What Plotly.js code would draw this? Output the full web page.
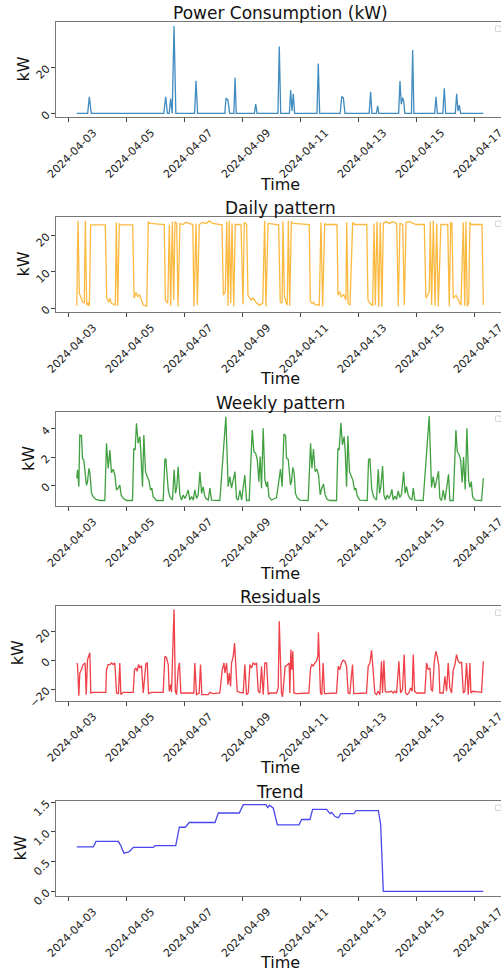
<!DOCTYPE html>
<html>
<head>
<meta charset="utf-8">
<script src="https://cdn.plot.ly/plotly-3.0.1.min.js"></script>
<style>
html,body{margin:0;padding:0;overflow:hidden;background:#fff;}
#chart{width:505px;height:972px;}
</style>
</head>
<body>
<div id="chart"></div>
<script>
// Time values are hours after 2024-04-03 00:00
const powerHours = [7,16,17.4,19,79,80.6,82,83.5,84.7,86,87.5,89,104.5,105.7,107,129.5,130.5,132,133.5,137,138,139,154,155.1,156.2,173.5,174.6,175.8,183,184,185.1,186.2,187.3,205.8,206.9,208,225,226.3,227.6,229,249,250.2,251.3,255,256,257,273.4,274.5,275.6,276.7,277.5,278.5,284,285,286,303.2,304.3,305.4,310,311.2,312.3,320.3,321.4,322.5,323.6,324.7,343.5];
const powerKW    = [0,0,7.2,0,0,7.2,0,0,6.4,0,38,0,0,14.2,0,0,6.4,6,0,0,15.6,0,0,4,0,0,29,0,0,10.1,1,8.5,0,0,21.7,0,0,7.2,6.8,0,0,9.4,0,0,3.2,0,0,14,4,6.8,5.5,0,0,27.5,0,0,7.2,0,0,10.9,0,0,8.5,1,3.6,0,0];

const dailyHours = [7,8,9.1,10.5,11.9,13.2,14.1,15.2,16.3,17.4,18.5,30.6,31.8,33.4,34.5,35.6,38.9,39.7,40.9,42.2,43.6,53.3,54.4,56,57.4,58.8,60.4,62.1,64.9,66.2,67.6,79.4,80.3,82.3,83.6,84.7,86.1,87.2,88.3,89.7,90.8,92.4,94.7,97.4,100.1,103,104,105.7,106.8,108.4,111.2,114,116.7,119.5,127.2,128.3,129.9,131.1,132.2,133.2,134.4,135.5,136.9,138.2,142.9,144.6,145.6,147.6,148.7,151.2,153.1,155.3,158.1,160.9,162.5,163.6,165.3,174.1,175.4,176.9,177.7,178.8,180.2,181.2,182.1,183.2,184.6,186.2,199.4,200.3,201.7,203.1,204.4,206.4,207.7,209.1,210.5,212.2,213.3,222.4,223.2,224.6,225.9,227.9,229.8,230.4,231.5,233.1,235.4,237,247,248,249.7,251.9,253,254.1,255.5,256.9,258.2,259.6,260.7,262.9,265.7,268.5,271.8,273.1,274.5,276.7,278.1,279.5,282.2,285,287.8,294.6,296,297.4,298.8,299.6,300.7,302.1,303.5,304.9,306.2,308.4,314,315.3,316.5,317.5,318.6,320.9,323.1,325,326.9,328.1,329.1,330.2,331.4,332.4,333.5,342.4,343.5];
const dailyKW    = [0.6,24,4,2.7,1.6,1.3,24,0.8,1.3,0.6,22.9,22.9,2.7,1.6,2.7,1.3,0.8,23.6,0.6,23.3,22.9,22.9,2.7,4.3,3.1,3.7,2.2,0.8,0.6,23.8,23.3,23,2.2,1.3,23,0.6,23.8,2.2,23.8,23.3,0.4,23.3,23,23.6,23.3,23,0.4,23.3,0.8,23,23.6,23.3,24,23.3,22.9,3.5,4.5,23.8,0.6,24,1.3,23.3,0.4,23,23,1,23.6,23,3.5,2.2,2.7,1.6,0.8,1.3,24,0.4,23.3,22.9,1.6,1.3,23.8,3.5,1.6,0.8,24,0.6,23.8,23.3,23,1.9,1.3,1.6,0.8,1,0.6,23.6,0.4,23.3,23,23,3.5,4.5,3.1,3.7,2.2,23.6,1.3,0.8,23.6,23,23,2.2,1.3,0.6,23.3,0.8,23.8,0.4,23.6,0.4,23.3,23.8,23.3,23.8,23.3,0.4,23.3,23,0.8,23.6,23.8,23.3,23,23,2.7,3.5,4.5,23.8,0.8,24,0.6,23.3,0.4,23,23,0.4,23.6,23.3,2.7,3.5,1.9,0.8,23.6,0.6,23.8,0.4,1.6,23.6,23,23,0.8];

const weeklyHours = [7,7.6,8.7,9.5,10.9,11.7,12.8,13.9,15,15.9,17,17.8,19.2,20.6,22.8,26.1,30.2,31.6,33,34.4,35.7,37.1,38.5,39.9,41.3,42.6,43.7,45.4,48.2,53.1,54.2,55.3,56.4,57.8,59.2,60,61.4,62.5,63.9,65.3,66.7,68,69.1,70.2,73,78.5,79.9,80.7,82.7,84,86.2,87.6,88.7,89.8,90.9,92.3,93.7,95.1,96.5,97.8,99.2,100.6,102,103.4,104.7,106.1,107.5,108.9,110.3,111.6,112.7,113.8,115.8,117.2,118.5,125.4,128.2,130.4,132.3,133.7,135.1,136.5,137.9,139.2,140.6,142,143.4,146.1,147.5,149.7,152.2,153.6,155,156.4,157.7,158.8,159.9,161.3,162.7,164.1,164.9,166,168.2,172.3,173.7,175.6,177,178.4,179.8,180.6,182,182.8,183.9,184.7,185.8,186.9,188,189.4,191.6,198.5,200.5,201.6,202.9,204.3,205.7,207.1,208.5,209.8,211.2,212.6,214.3,216.5,222,223.1,224.2,225.6,226.9,228.3,229.2,230.3,231.4,232.7,234.1,235.5,236.9,238,239.1,241.3,247.4,248.5,249.6,251.2,252.9,255.1,256.5,257.6,258.7,260.1,261.2,262.6,263.9,265.3,266.7,267.8,268.9,270.3,271.7,273,274.4,275.8,277.5,278.8,279.9,281.3,282.7,284.4,285.5,286.8,293.7,296.5,298.7,300.6,302,303.4,304.8,306.4,307.5,308.9,310.3,311.7,314.7,315.8,318.6,320.8,321.9,323.3,324.7,326,327.1,328.5,329.9,331.3,332.4,333.5,334.6,336.5,342,343.5];
const weeklyKW    = [0.5,1.1,-0.1,3.55,3.5,1.9,1.8,0.7,0,0.25,1.2,0.95,-0.55,-0.8,-1,-1.07,-1.07,2.97,1.2,2.5,0.9,1.14,0.73,-0.33,-0.2,0.02,-0.68,-0.92,-1.07,-1.07,2.6,2.5,4.38,2.97,3.44,2.38,-0.1,3.55,0.96,0.61,0.37,-0.33,-0.2,-0.8,-1.07,-1.07,1.8,1.9,-0.33,-0.8,-1.04,1.1,-0.57,-0.1,1.33,-0.68,-1.04,-0.68,-0.92,-0.68,-0.33,-1.04,-0.8,-1.04,-0.33,-0.92,-0.68,0.96,-0.57,-0.1,-0.68,-0.92,-1.04,-0.2,-1.04,-1.07,2.5,4.85,-0.1,0.61,-0.2,0.37,0.96,-0.92,-1.04,-0.33,-1.04,0.73,-1.07,-1.07,3.9,2.38,2.27,1.8,0.26,2.04,-0.2,4.03,0.37,-0.1,0.26,-0.8,-1.04,-0.86,-0.1,1.15,-0.1,3.6,3.55,1.9,1.85,0.73,0.02,0.26,1.26,0.85,-0.57,-0.86,-1.04,-1.07,2.97,1.2,2.57,0.96,1.14,0.73,-0.68,-0.2,0.09,-0.68,-1,-1.07,-1.07,2.6,2.5,4.42,2.85,3.44,2.38,-0.1,3.5,0.96,0.61,0.37,-0.33,-0.2,-0.75,-1.04,-1.07,1.8,1.9,-0.33,-0.86,-1.04,1.14,-0.57,-0.1,1.36,-0.68,-1.04,-0.68,-0.92,-0.68,-0.28,-1.04,-0.75,-0.99,-0.4,-0.86,-0.62,0.96,-0.57,-0.1,-0.68,-0.92,-1.04,-0.2,-1.04,-1.07,2.5,4.9,-0.15,0.61,-0.2,0.37,1,-0.92,-1.07,-0.33,-1.04,0.78,-1.07,-1.07,3.9,2.38,2.2,1.8,0.2,2,-0.3,4.03,0.37,-0.15,0.26,-0.8,-1.04,-1.07,0.5];

const residHours = [7,7.6,8.7,9.5,10.3,11.2,12.3,13.9,14.8,15.9,17,17.8,18.6,20.6,31,31.6,33,34.4,35.7,37.1,38.5,39.9,41.5,42.6,43.5,45.4,53.7,54.8,55.9,57,58.1,59.2,60.6,62,64.2,65.3,66.4,68.9,78.5,79.9,81.3,82.7,83.5,84.6,85.4,87.5,88.6,89.6,90.9,92,93.1,103.9,104.7,106.1,108.3,109.4,110.5,115.8,117.2,119.9,125.4,127.4,128.8,129.6,131,132.1,133.2,134.3,135.1,136.5,137.6,138.7,139.8,142,144.8,146.1,147.5,148.9,150.3,151.7,153,154.4,155.8,157.2,158.6,159.9,161.3,162.7,164.1,165.5,166.8,172.4,173.7,174.6,176.4,177.3,178.4,179.5,180.6,181.7,182.8,183.3,184.2,185,185.8,186.7,188.9,199.1,200.5,201.6,202.7,204,205.4,206.5,207,208.7,209.8,210.9,212,222,223.4,224.7,226.1,227.5,228.9,230.3,231.6,233,235.2,236.3,246.8,248.2,249.6,251,252.3,253.7,255.1,256.5,257.9,259.2,260.1,261.2,262.3,263.4,267.5,268.9,270.3,271.7,273.6,275,276.6,278,279.1,280.5,281.9,283.3,284.6,285.5,286.6,288.2,295.1,296.5,297.9,299.3,300.4,301.5,302.8,304.2,305.3,306.7,307.5,310.3,311.7,313.1,314.4,315.8,317.2,318.6,320,321.3,322.7,324.1,325.5,326.9,328.2,329.6,331,332.4,333.2,334.6,342,343.5];
const residKW    = [-1.9,-3,-24.4,-8.8,-7.6,-5.3,-3,-1.9,-23.7,0.4,2.8,5.1,-22.6,-22.1,-22.1,-6.5,-3,-3,-1.9,-3,-1.9,-22.6,-23,-1.9,-23.7,-22.1,-22.1,-6.5,-5.3,-7.6,-3,-5.3,-3.7,-22.6,-2.3,-1.9,-23,-22.1,-22.1,2.8,1.6,-3,-21.4,-16.8,-22.1,34.9,-21.4,-23.7,-6.5,-1.9,-22.6,-22.6,-1.9,-23.7,-22.6,-3,-23.7,-23.7,-22.1,-23,-22.6,-6.5,-1.9,-8.8,-1.9,-16.8,-8.8,-18,-1.9,2.8,11.9,-1.9,-21.4,-22.1,-22.6,-3,-23.7,-22.6,-3,-5.3,-1.9,-3,-1.9,-21.4,-22.6,-4.1,-23.7,-1.9,-1.9,-23.7,-22.6,-22.6,-19.1,26.9,-22.6,-25.3,-15.7,-4.1,-3.7,-3,-1.9,-22.6,7.3,-6.5,6.2,-22.6,-23,-22.6,-5.3,-3,-4.1,-1.9,-0.7,2.8,19.3,-22.6,-23.7,-1.9,-23,-22.6,-4.1,-6.5,-1.9,0,-0.7,-4.1,-22.6,-23,-3,-23,-22.6,-4.1,-1.9,6.8,-5.3,-22.6,-23.7,-21.4,-23.7,-0.7,-22.6,0,-21.4,-22.1,-21.4,-22.6,-21.4,-22.6,-0.7,-22.6,-20.3,3.9,-22.6,-23.7,-22.6,-19.1,-21.4,3.9,-21.4,-22.6,-22.6,-1.9,-6.5,-5.3,-20.3,-21.4,-1.9,6.2,2.8,-4.1,-22.6,-22.6,-11.1,-21.4,-1.9,-19.1,-22.6,-6.5,-3,3.9,-0.7,-1.9,-1.4,-22.6,-21.4,-1.9,-23.7,-1.9,-22.6,-21.4,-22.1,-0.7];

const trendHours = [7,20.7,22.9,41.4,43.4,46.1,47.5,49.7,51,53.8,70.4,71.8,88.9,91.9,96.8,100.1,121.4,124.2,141.5,144.8,163.6,165,166.5,168,169.7,173,190.9,193.1,200,202.2,213.8,216.6,218,220.7,223.5,225.5,227.6,236.4,238.1,256.6,258.5,260.7,343.5];
const trendKW    = [0.75,0.75,0.84,0.84,0.77,0.64,0.65,0.66,0.68,0.74,0.74,0.77,0.77,1.08,1.08,1.16,1.16,1.32,1.32,1.46,1.46,1.41,1.45,1.43,1.4,1.12,1.12,1.21,1.21,1.38,1.38,1.31,1.33,1.26,1.24,1.31,1.31,1.31,1.36,1.36,1.13,0,0];

const panelTitles = ['Power Consumption (kW)','Daily pattern','Weekly pattern','Residuals','Trend'];
const xTickLabelFormat = '%Y-%m-%d';

function toDate(h){
  const d = new Date(Date.UTC(2024,3,3) + Math.round(h*3600000));
  return d.toISOString().slice(0,19).replace('T',' ');
}

const series = [
  {h:powerHours, v:powerKW, color:'rgba(31,119,180,0.85)'},
  {h:dailyHours, v:dailyKW, color:'rgba(250,165,10,0.78)'},
  {h:weeklyHours, v:weeklyKW, color:'rgba(0,128,0,0.75)'},
  {h:residHours, v:residKW, color:'rgba(235,15,25,0.8)'},
  {h:trendHours, v:trendKW, color:'rgba(0,0,230,0.72)'}
];

const H = 972;
const tops = [22,217,412,606,801];
const bottoms = [117,312,506,700.7,896];
const yRanges = [[-1.6,39.7],[-1.1,25.07],[-1.46,5.18],[-27.9,37.4],[-0.079,1.522]];
const yDticks = [20,10,2,20,0.5];
const titleY = [13,208,403,596.5,791.5];
const timeY = [184,378.7,573,767,962];
const kwX = [23,23,28,17,20];

const font = 'DejaVu Sans, sans-serif';
const traces = [];
const layout = {
  width:505, height:H,
  margin:{l:56,r:1,t:0,b:0},
  paper_bgcolor:'#fff', plot_bgcolor:'#fff',
  showlegend:false,
  font:{family:font, color:'#222'},
  annotations:[], shapes:[]
};
const px2x = px => (px-56)/448;
const px2y = py => 1 - py/H;

for(let i=0;i<5;i++){
  const sfx = i===0 ? '' : String(i+1);
  traces.push({
    type:'scatter', mode:'lines',
    x:series[i].h.map(toDate), y:series[i].v,
    xaxis:'x'+sfx, yaxis:'y'+sfx,
    line:{color:series[i].color, width:1.3},
    hoverinfo:'skip'
  });
  layout['xaxis'+sfx] = {
    type:'date', anchor:'y'+sfx,
    domain:[0,1],
    range:['2024-04-02 13:48','2024-04-18 00:36'],
    tick0:'2024-04-03', dtick:2*86400000, tickformat:xTickLabelFormat,
    tickangle:-45, ticks:'outside', ticklen:4, tickcolor:'#444', tickwidth:1,
    tickfont:{family:font, size:11, color:'#222'},
    ticklabelshift:25, ticklabeloverflow:'allow',
    showline:true, linecolor:'#777', linewidth:1, mirror:true,
    showgrid:false, zeroline:false, fixedrange:true
  };
  layout['yaxis'+sfx] = {
    anchor:'x'+sfx,
    domain:[px2y(bottoms[i]), px2y(tops[i])],
    range:yRanges[i], dtick:yDticks[i], tick0:0,
    tickformat: i===4 ? '.1f' : '',
    tickangle:-45, ticks:'outside', ticklen:4, tickcolor:'#444', tickwidth:1,
    tickfont:{family:font, size:11, color:'#222'},
    ticklabelstandoff:2, ticklabeloverflow:'allow',
    showline:true, linecolor:'#777', linewidth:1, mirror:true,
    showgrid:false, zeroline:false, fixedrange:true
  };
  layout.annotations.push({
    text:panelTitles[i], xref:'paper', yref:'paper',
    x:px2x(280), y:px2y(titleY[i]), xanchor:'center', yanchor:'middle',
    showarrow:false, font:{family:font, size:17, color:'#111'}
  });
  layout.annotations.push({
    text:'Time', xref:'paper', yref:'paper',
    x:px2x(280), y:px2y(timeY[i]), xanchor:'center', yanchor:'middle',
    showarrow:false, font:{family:font, size:16, color:'#111'}
  });
  layout.annotations.push({
    text:'kW', xref:'paper', yref:'paper', textangle:-90,
    x:px2x(kwX[i]), y:px2y((tops[i]+bottoms[i])/2), xanchor:'center', yanchor:'middle',
    showarrow:false, font:{family:font, size:16, color:'#111'}
  });
  layout.shapes.push({
    type:'rect', xref:'paper', yref:'paper',
    x0:px2x(495.5), x1:px2x(501), y0:px2y(tops[i]+9.5), y1:px2y(tops[i]+4),
    line:{color:'#d6d6d6', width:1}, fillcolor:'#fff'
  });
}

Plotly.newPlot('chart', traces, layout, {displayModeBar:false, staticPlot:true});
</script>
</body>
</html>
